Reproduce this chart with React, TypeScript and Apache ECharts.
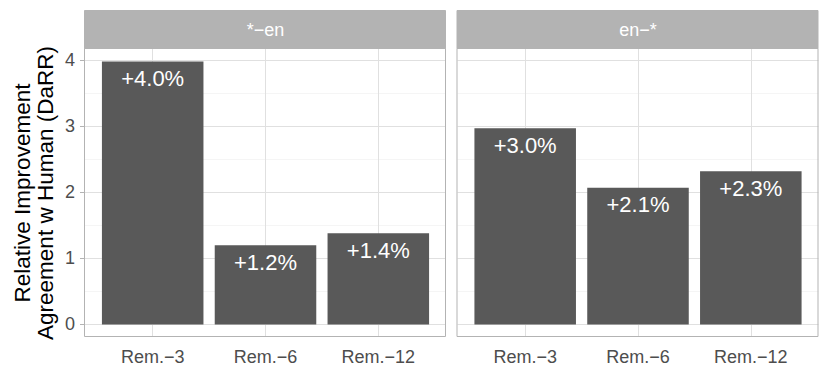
import React, { useEffect, useRef } from "react";
import * as echarts from "echarts";

const categories = ["Rem.−3", "Rem.−6", "Rem.−12"];
const categoryPositions = [1, 2, 3];
const panelTitles = ["*−en", "en−*"];
const valuesToEn = [3.98, 1.2, 1.38];
const valuesFromEn = [2.97, 2.07, 2.32];
const labelsToEn = ["+4.0%", "+1.2%", "+1.4%"];
const labelsFromEn = ["+3.0%", "+2.1%", "+2.3%"];
const yTicks = [0, 1, 2, 3, 4];
const yMinorTicks = [0.5, 1.5, 2.5, 3.5];
const yTitle = "Relative Improvement\nAgreement w Human (DaRR)";

const FONT = "Liberation Sans, Arial, Helvetica, sans-serif";
const PANEL_TOP = 49;
const PANEL_H = 288;
const PANEL_W = 361;
const PANEL_LEFTS = [85, 457.5];
const STRIP_TOP = 11;

export default function App() {
  const ref = useRef<HTMLDivElement>(null);

  useEffect(() => {
    if (!ref.current) return;
    const chart = echarts.init(ref.current, undefined, { renderer: "svg" });

    const seriesValues = [valuesToEn, valuesFromEn];
    const seriesLabels = [labelsToEn, labelsFromEn];

    const grids = PANEL_LEFTS.map((left) => ({
      left,
      top: PANEL_TOP,
      width: PANEL_W,
      height: PANEL_H,
      show: true,
      backgroundColor: "#FFFFFF",
      borderWidth: 0,
    }));

    const xAxes = PANEL_LEFTS.map((_, i) => ({
      type: "value",
      gridIndex: i,
      min: 0.4,
      max: 3.6,
      axisLine: { show: false },
      splitLine: { show: false },
      axisTick: {
        show: true,
        customValues: categoryPositions,
        length: 5,
        lineStyle: { color: "#B3B3B3", width: 1 },
      },
      axisLabel: {
        customValues: categoryPositions,
        formatter: (v: number) => categories[Math.round(v) - 1] ?? "",
        color: "#4D4D4D",
        fontSize: 18,
        fontFamily: FONT,
        margin: 11,
      },
    }));

    const yAxes = PANEL_LEFTS.map((_, i) => ({
      type: "value",
      gridIndex: i,
      min: -0.19,
      max: 4.17,
      axisLine: { show: false },
      splitLine: { show: false },
      axisTick: {
        show: i === 0,
        customValues: yTicks,
        length: 5,
        lineStyle: { color: "#B3B3B3", width: 1 },
      },
      axisLabel: {
        show: i === 0,
        customValues: yTicks,
        color: "#4D4D4D",
        fontSize: 18,
        fontFamily: FONT,
        margin: 10,
      },
    }));

    const gridLineSeries = PANEL_LEFTS.map((_, i) => ({
      type: "line",
      xAxisIndex: i,
      yAxisIndex: i,
      data: [],
      silent: true,
      z: 1,
      markLine: {
        silent: true,
        symbol: "none",
        z: 1,
        animation: false,
        label: { show: false },
        emphasis: { disabled: true },
        data: [
          ...yMinorTicks.map((v) => ({
            yAxis: v,
            lineStyle: { color: "#EFEFEF", width: 0.6, type: "solid" },
          })),
          ...yTicks.map((v) => ({
            yAxis: v,
            lineStyle: { color: "#E0E0E0", width: 1, type: "solid" },
          })),
          ...categoryPositions.map((v) => ({
            xAxis: v,
            lineStyle: { color: "#E0E0E0", width: 1, type: "solid" },
          })),
        ],
      },
    }));

    const barSeries = PANEL_LEFTS.map((_, i) => ({
      type: "bar",
      xAxisIndex: i,
      yAxisIndex: i,
      z: 3,
      barWidth: "90%",
      data: seriesValues[i].map((v, j) => [categoryPositions[j], v]),
      itemStyle: { color: "#595959" },
      label: {
        show: true,
        position: "insideTop",
        distance: 6,
        color: "#FFFFFF",
        fontSize: 22,
        fontFamily: FONT,
        formatter: (p: any) => seriesLabels[i][p.dataIndex],
      },
    }));

    const graphics: any[] = [];
    PANEL_LEFTS.forEach((left, i) => {
      graphics.push({
        type: "rect",
        z: 10,
        silent: true,
        shape: { x: left - 0.5, y: PANEL_TOP - 0.5, width: PANEL_W, height: PANEL_H },
        style: { fill: "none", stroke: "#B3B3B3", lineWidth: 1 },
      });
      graphics.push({
        type: "rect",
        z: 10,
        silent: true,
        shape: {
          x: left - 0.5,
          y: STRIP_TOP - 0.5,
          width: PANEL_W,
          height: PANEL_TOP - STRIP_TOP,
        },
        style: { fill: "#B3B3B3", stroke: "#B3B3B3", lineWidth: 1 },
      });
      graphics.push({
        type: "text",
        z: 11,
        silent: true,
        x: left + PANEL_W / 2,
        y: (STRIP_TOP + PANEL_TOP) / 2,
        style: {
          text: panelTitles[i],
          fill: "#FFFFFF",
          fontSize: 18,
          fontFamily: FONT,
          align: "center",
          verticalAlign: "middle",
        },
      });
    });
    graphics.push({
      type: "text",
      z: 11,
      silent: true,
      x: 34,
      y: PANEL_TOP + PANEL_H / 2,
      rotation: Math.PI / 2,
      style: {
        text: yTitle,
        fill: "#000000",
        fontSize: 22.5,
        lineHeight: 23,
        fontFamily: FONT,
        align: "center",
        verticalAlign: "middle",
      },
    });

    chart.setOption({
      animation: false,
      backgroundColor: "#FFFFFF",
      grid: grids,
      xAxis: xAxes,
      yAxis: yAxes,
      series: [...gridLineSeries, ...barSeries],
      graphic: graphics,
    });

    return () => chart.dispose();
  }, []);

  return (
    <div
      ref={ref}
      style={{ position: "fixed", left: 0, top: 0, width: 830, height: 378 }}
    />
  );
}
